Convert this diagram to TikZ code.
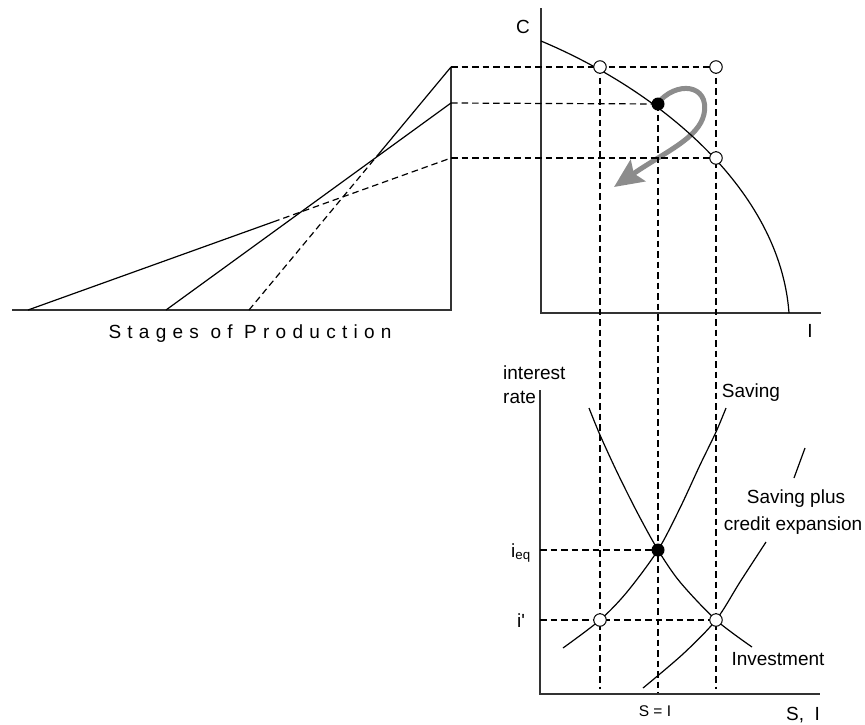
\documentclass[tikz,border=0pt]{standalone}
\usepackage{fontspec}
\setmainfont{Liberation Sans}
\usetikzlibrary{arrows.meta,calc}
\begin{document}
\begin{tikzpicture}[x=1pt,y=-1pt,
  ln/.style={line width=1.2pt},
  ax/.style={line width=1.4pt, draw=black!80},
  dsh/.style={line width=1.2pt, dash pattern=on 6.5pt off 4pt},
  opendot/.style={circle, draw, fill=white, line width=1pt, minimum size=12.5pt, inner sep=0pt},
  fulldot/.style={circle, fill=black, minimum size=13pt, inner sep=0pt},
  lbl/.style={font=\fontsize{19}{22}\selectfont, inner sep=0pt, anchor=base},
  small/.style={font=\fontsize{15.5}{18}\selectfont, inner sep=0pt, anchor=base},
]
\useasboundingbox (0,0) rectangle (865,724);

% ---------- left panel: stages of production ----------
\coordinate (B0) at (12,310);
\coordinate (B1) at (451,310);
\coordinate (V1) at (451,67);
\coordinate (L1a) at (28,310);
\coordinate (L1b) at (451,158);
\coordinate (L2a) at (166,310);
\coordinate (L2b) at (451,103);
\coordinate (L3a) at (249,310);
\coordinate (L3b) at (451,67);
\draw[ax] (B0) -- (B1) -- (V1);
\coordinate (L1m) at ($(L1a)!0.58!(L1b)$);
\draw[ln] (L1a) -- (L1m);
\draw[dsh] (L1m) -- (L1b);
\draw[ln] (L2a) -- (L2b);
\coordinate (L3m) at ($(L3a)!0.65!(L3b)$);
\draw[dsh] (L3a) -- (L3m);
\draw[ln] (L3m) -- (L3b);
\node[lbl] (stages) at (250,338) {\addfontfeature{LetterSpace=33}Stages of Production};

% ---------- top-right panel: PPF ----------
\coordinate (O1) at (541,313);
\draw[ax] (541,8) coordinate (Ctop) -- (O1) -- (821,313) coordinate (Iend);
\node[lbl] (Clab) at (523,33) {C};
\node[lbl] (Ilab) at (810,337) {I};

% gray arrow
\draw[line width=5pt, draw=black!45, -{Stealth[length=29pt,width=26pt,inset=5pt]}]
  (657,104) .. controls (676,80) and (710,84) .. (704,114)
            .. controls (699,138) and (665,152) .. (614,187);

% PPF curve
\draw[ln] (541,41) coordinate (ppfA) .. controls (660,91) and (780,190) .. (789,313) coordinate (ppfB);

% dashed guides
\coordinate (P1) at (600,67);
\coordinate (Q1) at (716,67);
\coordinate (E1) at (658,104);
\coordinate (Q2) at (716,158);
\draw[dsh] (L1b) -- (Q2);
\draw[dsh] (L2b) -- (E1);
\draw[dsh] (L3b) -- (Q1);
\coordinate (p1bot) at (600,689);
\coordinate (e1bot) at (658,694);
\coordinate (q1bot) at (716,689);
\draw[dsh] (P1) -- (p1bot);
\draw[dsh] (E1) -- (e1bot);
\draw[dsh] (Q1) -- (q1bot);

% ---------- bottom panel: loanable funds ----------
\coordinate (O2) at (540,694);
\draw[ax] (540,390) coordinate (rtop) -- (O2) -- (820,694) coordinate (SIend);
\coordinate (ieq) at (540,550);
\coordinate (ip) at (540,620);
\coordinate (E2) at (658,550);
\coordinate (P2) at (600,620);
\coordinate (Q3) at (716,620);
\draw[dsh] (ieq) -- (E2);
\draw[dsh] (ip) -- (Q3);

% investment
\draw[ln] plot[smooth, tension=0.5] coordinates {(589,408) (600,435) (617,472) (637,512) (658,550) (680,582) (716,620) (752,647)};
% saving
\draw[ln] plot[smooth, tension=0.5] coordinates {(563,648) (600,620) (627,592) (658,550) (680,508) (700,465) (716,432) (726,408)};
% saving plus credit expansion
\draw[ln] plot[smooth, tension=0.5] coordinates {(643,688) (683,654) (716,620) (740,582) (766,542)};
\draw[ln] (794,478) coordinate (sc1) -- (805,448) coordinate (sc2);

% dots
\node[opendot] (nP1) at (P1) {};
\node[opendot] (nQ1) at (Q1) {};
\node[opendot] (nQ2) at (Q2) {};
\node[fulldot] (nE1) at (E1) {};
\node[fulldot] (nE2) at (E2) {};
\node[opendot] (nP2) at (P2) {};
\node[opendot] (nQ3) at (Q3) {};

% labels
\node[lbl, anchor=base west] (interest) at (503,379) {interest};
\node[lbl, anchor=base west] (rate) at (503,403) {rate};
\node[lbl] (saving) at (751,397) {Saving};
\node[lbl] (spl) at (796,503) {Saving plus};
\node[lbl] (cre) at (793,530) {credit expansion};
\node[lbl] (inv) at (778,665) {Investment};
\node[lbl] (ieqlab) at (521,557) {i$_{\mathrm{eq}}$};
\node[lbl] (iplab) at (521,627) {i\textquotesingle};
\node[small] (SeqI) at (655,716) {S = I};
\node[lbl] (SI) at (803,720) {S,\ \ I};
\end{tikzpicture}
\end{document}
